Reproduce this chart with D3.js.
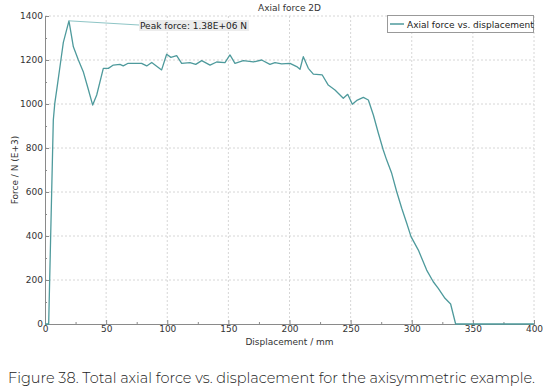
<!DOCTYPE html>
<html><head><meta charset="utf-8">
<script src="https://cdn.jsdelivr.net/npm/d3@7"></script>
<style>
body{margin:0;background:#fff;}
svg{display:block;font-family:"DejaVu Sans",sans-serif;}
</style></head>
<body><svg id="c" width="557" height="391"></svg>
<script>
const displacement = [0,3,6.8,8,10,13,15,19.6,23.2,27.3,31.3,35,39,42.3,47.7,51.8,55.9,61.3,64,68,79,83.2,87.3,95.4,99.5,103,107.7,111.8,118.6,123.3,128.2,135,140.4,147.2,151.3,155.4,162.2,170.4,177.2,184,188.1,193.6,200.4,205.9,208.6,211.3,215.4,219.5,226.8,231.7,237.2,244,247.6,251.4,255.5,260.4,264.5,268.6,272.7,276.7,279.5,283.6,287.7,291.8,295.9,299.4,305.4,312.2,317.6,321.7,327.2,331.8,335.9,400];
const force = [0,0,927,1003,1080,1200,1280,1378,1260,1200,1147,1075,995,1041,1162,1162,1177,1180,1173,1185,1185,1173,1189,1155,1226,1212,1220,1185,1188,1180,1197,1177,1191,1188,1223,1185,1197,1191,1200,1180,1188,1182,1185,1170,1158,1215,1162,1136,1132,1086,1064,1026,1044,999,1018,1030,1018,950,867,791,745,685,601,526,458,397,336,245,192,162,117,91,0,0];
const xTicks = [0,50,100,150,200,250,300,350,400];
const yTicks = [0,200,400,600,800,1000,1200,1400];
const title = "Axial force 2D";
const xLabel = "Displacement / mm";
const yLabel = "Force / N (E+3)";
const seriesName = "Axial force vs. displacement";
const peakLabel = "Peak force: 1.38E+06 N";
const caption = "Figure 38. Total axial force vs. displacement for the axisymmetric example.";

const svg = d3.select("#c");
const L=45,R=534,T=16,B=324;
const FS="9px";
const x = d3.scaleLinear().domain([0,400]).range([L,R]);
const y = d3.scaleLinear().domain([0,1400]).range([B,T]);
const lineCol="#4e9a9c", axisCol="#8a8a8a", textCol="#333";

// grid
const g = svg.append("g");
g.selectAll(".gx").data(xTicks.slice(1)).join("line")
 .attr("x1",d=>x(d)).attr("x2",d=>x(d)).attr("y1",T).attr("y2",B)
 .attr("stroke","#d6d6d6").attr("stroke-width",1).attr("stroke-dasharray","2,2");
g.selectAll(".gy").data(yTicks.slice(1)).join("line")
 .attr("x1",L).attr("x2",R).attr("y1",d=>y(d)).attr("y2",d=>y(d))
 .attr("stroke","#d6d6d6").attr("stroke-width",1).attr("stroke-dasharray","2,2");

// axes
const xa = svg.append("g").attr("transform",`translate(0,${B})`)
 .call(d3.axisBottom(x).tickValues(xTicks).tickSize(-4).tickPadding(2).tickFormat(d3.format("d")));
const xm = svg.append("g").attr("transform",`translate(0,${B})`)
 .call(d3.axisBottom(x).tickValues(d3.range(25,400,50)).tickSize(-2).tickFormat(""));
const ya = svg.append("g").attr("transform",`translate(${L},0)`)
 .call(d3.axisLeft(y).tickValues(yTicks).tickSize(-4).tickPadding(2).tickFormat(d3.format("d")));
const ym = svg.append("g").attr("transform",`translate(${L},0)`)
 .call(d3.axisLeft(y).tickValues(d3.range(100,1400,200)).tickSize(-2).tickFormat(""));
[xa,xm,ya,ym].forEach(a=>{
  a.select(".domain").attr("stroke",axisCol);
  a.selectAll(".tick line").attr("stroke",axisCol);
  a.selectAll("text").attr("fill",textCol).style("font-size",FS).style("font-family","DejaVu Sans");
});
ym.select(".domain").remove(); xm.select(".domain").remove();

// line
const line = d3.line().x((d,i)=>x(displacement[i])).y(d=>y(d));
svg.append("path").datum(force).attr("d",line).attr("fill","none")
 .attr("stroke",lineCol).attr("stroke-width",1.3).attr("stroke-linejoin","round");

// peak annotation
const pi = force.indexOf(d3.max(force));
const ann = svg.append("g");
ann.append("line").attr("x1",x(displacement[pi])).attr("y1",y(force[pi]))
 .attr("x2",139).attr("y2",25).attr("stroke","#8ec5c6").attr("stroke-width",1);
const bg = ann.append("rect").attr("fill","#ececec");
const pt = ann.append("text").attr("x",140).attr("y",28.5).text(peakLabel)
 .attr("fill","#222").style("font-size",FS);
const pb = pt.node().getBBox();
bg.attr("x",pb.x-1).attr("y",pb.y-0.5).attr("width",pb.width+3).attr("height",pb.height+1);

// title
svg.append("text").attr("x",(L+R)/2).attr("y",11).attr("text-anchor","middle")
 .attr("fill",textCol).style("font-size",FS).text(title);
// axis labels
svg.append("text").attr("x",(L+R)/2).attr("y",345).attr("text-anchor","middle")
 .attr("fill",textCol).style("font-size",FS).text(xLabel);
svg.append("text").attr("transform",`translate(18,${(T+B)/2}) rotate(-90)`).attr("text-anchor","middle")
 .attr("fill",textCol).style("font-size",FS).text(yLabel);

// legend
svg.append("rect").attr("x",387.5).attr("y",15.5).attr("width",146).attr("height",17)
 .attr("fill","#fff").attr("stroke","#999");
svg.append("line").attr("x1",390).attr("x2",404).attr("y1",24).attr("y2",24)
 .attr("stroke",lineCol).attr("stroke-width",1.5);
svg.append("text").attr("x",407).attr("y",27.5).attr("fill","#222").style("font-size",FS).text(seriesName);

// caption
const cap = svg.append("text").attr("x",8).attr("y",383).attr("fill","#222")
 .style("font-family","Montserrat, 'Open Sans', sans-serif").style("font-size","15px").style("font-weight","300").text(caption);
const w = cap.node().getComputedTextLength();
cap.style("font-size",(15*527/w).toFixed(2)+"px");
</script></body></html>
